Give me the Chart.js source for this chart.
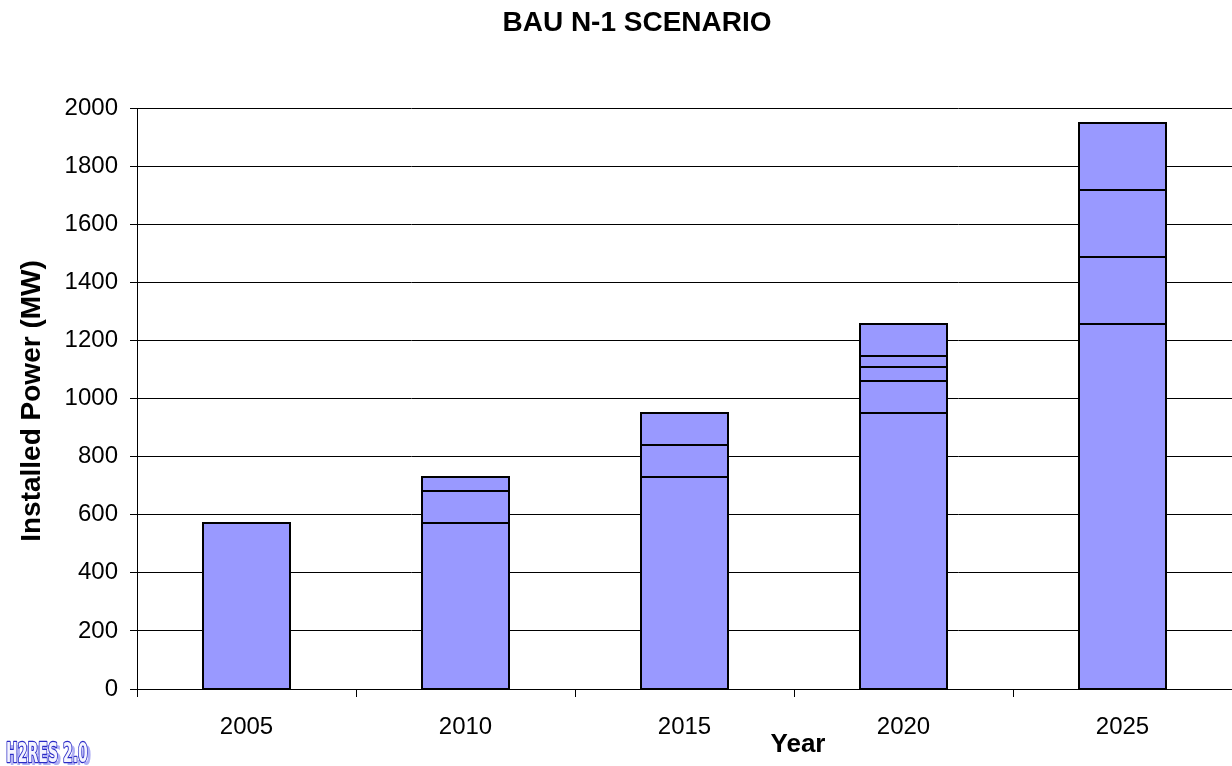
<!DOCTYPE html>
<html>
<head>
<meta charset="utf-8">
<script src="https://cdn.jsdelivr.net/npm/chart.js@4"></script>
<style>
    html, body { margin: 0; padding: 0; background: #fff; }
    #wrap { width: 1232px; height: 766px; position: relative; }
</style>
</head>
<body>
<div id="wrap"><canvas id="bauChart"></canvas></div>
<script>
const years = ['2005', '2010', '2015', '2020', '2025'];

// stacked capacity blocks (MW), bottom to top
const baseCapacity = [570, 570, 730, 950, 1258];
const addedBlock1 = [null, 110, 110, 110, 230];
const addedBlock2 = [null, 50, 110, 48, 230];
const addedBlock3 = [null, null, null, 38, 230];
const addedBlock4 = [null, null, null, 110, null];

const yTicks = [0, 200, 400, 600, 800, 1000, 1200, 1400, 1600, 1800, 2000];

const chartTitle = 'BAU N-1 SCENARIO';
const yTitle = 'Installed Power (MW)';
const xTitle = 'Year';
const logoText = 'H2RES 2.0';

const barFill = '#9999ff';
const barEdge = '#000000';

const makeSet = (label, data) => ({
    label: label,
    data: data,
    backgroundColor: barFill,
    borderWidth: 0,
    barPercentage: 0.4,
    categoryPercentage: 1.0
});

// crisp outlines round each stacked block (Chart.js inner borders double up)
const outlinePlugin = {
    id: 'blockOutline',
    afterDatasetsDraw(chart) {
        const ctx = chart.ctx;
        ctx.save();
        ctx.strokeStyle = barEdge;
        ctx.lineWidth = 2;
        chart.data.datasets.forEach((ds, i) => {
            const meta = chart.getDatasetMeta(i);
            meta.data.forEach((bar, j) => {
                if (ds.data[j] == null) return;
                const left = Math.round(bar.x - bar.width / 2);
                const right = Math.round(bar.x + bar.width / 2);
                const top = Math.round(bar.y);
                const bottom = Math.round(bar.base);
                ctx.strokeRect(left, top, right - left, bottom - top);
            });
        });
        ctx.restore();
    }
};

// titles + logo drawn at fixed spots, like the original sheet
const textPlugin = {
    id: 'sheetText',
    afterDraw(chart) {
        const ctx = chart.ctx;
        ctx.save();
        ctx.fillStyle = '#000';
        ctx.textAlign = 'center';
        ctx.textBaseline = 'alphabetic';

        ctx.font = 'bold 28px "Liberation Sans", Arial, sans-serif';
        ctx.fillText(chartTitle, 637, 31);

        ctx.font = 'bold 26px "Liberation Sans", Arial, sans-serif';
        ctx.fillText(xTitle, 798, 752);

        ctx.save();
        ctx.translate(40, 401);
        ctx.rotate(-Math.PI / 2);
        ctx.font = 'bold 28px "Liberation Sans", Arial, sans-serif';
        ctx.fillText(yTitle, 0, 0);
        ctx.restore();

        // logo
        ctx.save();
        ctx.translate(6, 762);
        ctx.scale(0.6, 1);
        ctx.textAlign = 'left';
        ctx.font = 'bold 26px "Liberation Sans Narrow", "DejaVu Sans Condensed", sans-serif';
        ctx.lineJoin = 'round';
        ctx.fillStyle = '#b0b0f4';
        ctx.fillText(logoText, 6, 3);
        ctx.strokeStyle = '#2b2bc6';
        ctx.lineWidth = 2.5;
        ctx.strokeText(logoText, 0, 0);
        ctx.fillStyle = '#f4f4ff';
        ctx.fillText(logoText, 0, 0);
        ctx.restore();

        ctx.restore();
    }
};

const ctx = document.getElementById('bauChart').getContext('2d');

new Chart(ctx, {
    type: 'bar',
    data: {
        labels: years,
        datasets: [
            makeSet('Base', baseCapacity),
            makeSet('Block 1', addedBlock1),
            makeSet('Block 2', addedBlock2),
            makeSet('Block 3', addedBlock3),
            makeSet('Block 4', addedBlock4)
        ]
    },
    options: {
        responsive: true,
        maintainAspectRatio: false,
        animation: false,
        layout: { padding: { top: 108, left: 0, right: 0, bottom: 0 } },
        plugins: {
            legend: { display: false },
            title: { display: false },
            tooltip: { enabled: false }
        },
        scales: {
            x: {
                stacked: true,
                afterFit: (scale) => { scale.height = 77; },
                grid: {
                    offset: true,
                    drawOnChartArea: false,
                    drawTicks: true,
                    tickLength: 8,
                    color: '#000',
                    lineWidth: 1
                },
                border: { display: true, color: '#000', width: 1 },
                ticks: {
                    color: '#000',
                    padding: 16,
                    font: { family: '"Liberation Sans", Arial, sans-serif', size: 24 }
                }
            },
            y: {
                stacked: true,
                min: 0,
                max: 2000,
                afterFit: (scale) => { scale.width = 137; },
                afterBuildTicks: (scale) => { scale.ticks = yTicks.map(v => ({ value: v })); },
                grid: {
                    drawTicks: true,
                    tickLength: 7,
                    color: '#000',
                    lineWidth: 1
                },
                border: { display: true, color: '#000', width: 1 },
                ticks: {
                    color: '#000',
                    padding: 12,
                    callback: (v) => String(v),
                    font: { family: '"Liberation Sans", Arial, sans-serif', size: 24 }
                }
            }
        }
    },
    plugins: [outlinePlugin, textPlugin]
});
</script>
</body>
</html>
